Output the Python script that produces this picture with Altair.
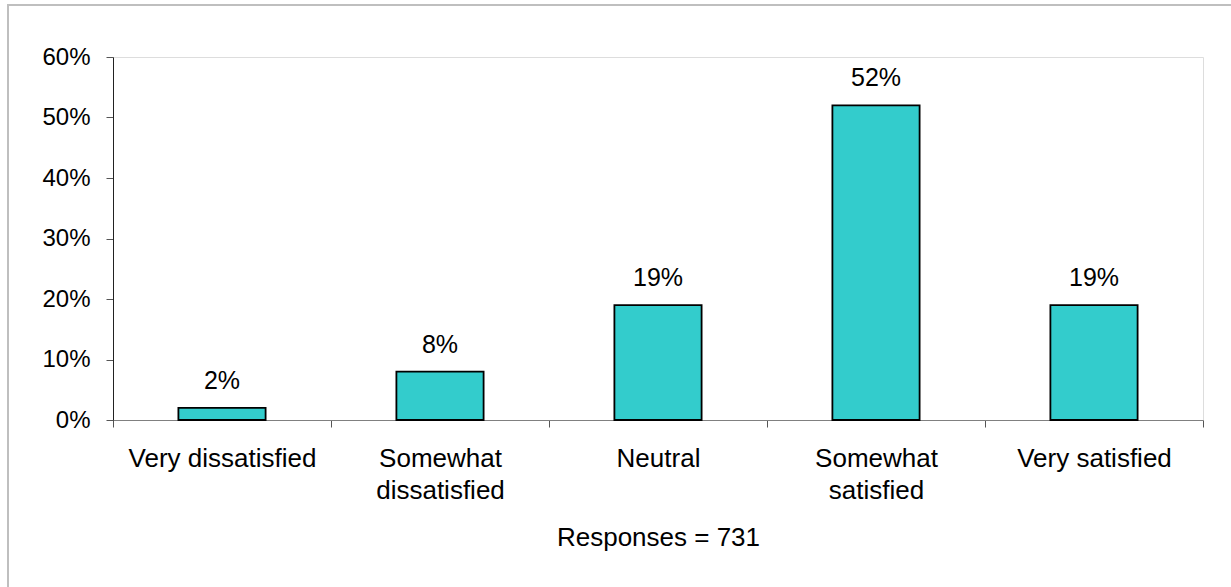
import altair as alt
import pandas as pd

# Satisfaction survey: share of responses per answer
categories = [
    "Very dissatisfied",
    "Somewhat dissatisfied",
    "Neutral",
    "Somewhat satisfied",
    "Very satisfied",
]
shares = [0.02, 0.08, 0.19, 0.52, 0.19]
y_ticks = [0.0, 0.1, 0.2, 0.3, 0.4, 0.5, 0.6]
n_responses = 731

df = pd.DataFrame({"category": categories, "share": shares})

FONT = "Liberation Sans"
W, H = 1090, 363
PAD_L, PAD_T, PAD_R, PAD_B = 113, 57, 28, 167

x_enc = alt.X(
    "category:N",
    sort=categories,
    scale=alt.Scale(paddingInner=0, paddingOuter=0),
    axis=alt.Axis(
        title=f"Responses = {n_responses}",
        titleFont=FONT,
        titleFontSize=26,
        titleFontWeight="normal",
        titleColor="black",
        titleX=W / 2,
        titleY=125,
        titleAlign="center",
        titleBaseline="alphabetic",
        labelAngle=0,
        labelFont=FONT,
        labelFontSize=26,
        labelColor="black",
        labelPadding=18,
        labelLineHeight=32,
        labelBaseline="top",
        labelLimit=0,
        labelExpr="indexof(datum.label, 'Somewhat') == 0 ? split(datum.label, ' ') : datum.label",
        tickBand="extent",
        tickSize=7,
        tickColor="#555555",
        domainColor="#808080",
        grid=False,
    ),
)

y_enc = alt.Y(
    "share:Q",
    scale=alt.Scale(domain=[0, 0.6], nice=False),
    axis=alt.Axis(
        title=None,
        values=y_ticks,
        format=".0%",
        labelFont=FONT,
        labelFontSize=24,
        labelColor="black",
        labelPadding=16,
        tickSize=7,
        tickColor="#555555",
        domainColor="#222222",
        grid=False,
    ),
)

# Light grey frame: left and top edges of the chart area
frame_left = alt.Chart(df).mark_rule(color="#bfbfbf", strokeWidth=2).encode(
    x=alt.value(-PAD_L + 8),
    y=alt.value(-PAD_T + 5),
    y2=alt.value(H + PAD_B),
)
frame_top = alt.Chart(df).mark_rule(color="#bfbfbf", strokeWidth=2).encode(
    y=alt.value(-PAD_T + 5),
    x=alt.value(-PAD_L + 7),
    x2=alt.value(W + PAD_R),
)

bars = alt.Chart(df).mark_bar(
    width=alt.RelativeBandSize(0.4),
    color="#33CCCC",
    stroke="black",
    strokeWidth=1.8,
).encode(x=x_enc, y=y_enc)

labels = alt.Chart(df).mark_text(
    font=FONT, fontSize=25, color="black", dy=-19, baseline="alphabetic"
).encode(
    x=alt.X("category:N", sort=categories),
    y="share:Q",
    text=alt.Text("share:Q", format=".0%"),
)

chart = (
    alt.layer(frame_left, frame_top, bars, labels)
    .properties(
        width=W,
        height=H,
        autosize=alt.AutoSizeParams(type="none"),
        padding={"left": PAD_L, "top": PAD_T, "right": PAD_R, "bottom": PAD_B},
    )
    .configure_view(stroke=None)
    .configure(background="white")
)

chart.save("out.html", embed_options={"renderer": "svg", "actions": False})
